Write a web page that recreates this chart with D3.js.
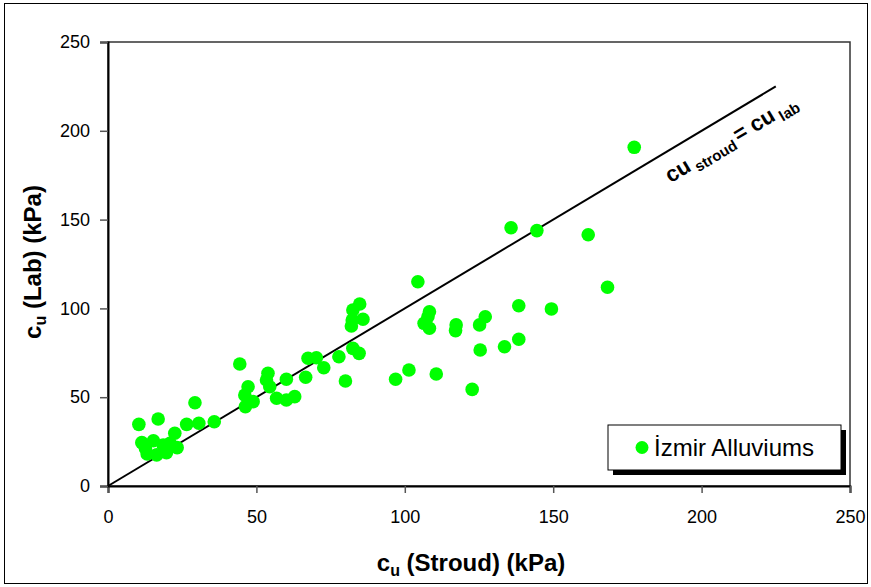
<!DOCTYPE html>
<html>
<head>
<meta charset="utf-8">
<script src="https://cdn.jsdelivr.net/npm/d3@7"></script>
<style>
  html, body { margin: 0; padding: 0; background: #fff; }
  svg { display: block; font-family: "Liberation Sans", Arial, sans-serif; }
</style>
</head>
<body>
<svg id="chart" width="871" height="587"></svg>
<script>
// Data: c_u (Stroud) vs c_u (Lab), kPa
const cuStroud = [10.4, 16.9, 11.4, 15.3, 13.2, 16.4, 19.7, 23.3, 22.5, 18.6, 20.9, 26.5, 30.6, 35.8, 29.3, 12.6,
  44.4, 47.2, 46.1, 46.3, 48.9, 53.9, 53.4, 54.5, 56.8, 60.1, 60.1, 62.9, 66.6, 67.4, 70.2, 72.7, 77.8, 80.0,
  82.5, 84.6, 82.0, 82.3, 82.5, 84.8, 85.9, 104.4, 108.3, 106.5, 108.3, 107.8, 117.3, 117.1, 125.2, 127.1,
  138.4, 138.4, 133.6, 125.4, 101.4, 96.9, 110.6, 122.7, 135.8, 144.5, 161.8, 168.3, 177.3, 149.4];
const cuLab = [34.7, 37.7, 24.4, 25.5, 18.0, 17.5, 18.8, 21.6, 29.7, 23.1, 24.0, 34.7, 35.3, 36.2, 46.9, 21.2,
  68.7, 55.9, 51.2, 44.7, 47.5, 63.5, 59.7, 55.9, 49.4, 60.1, 48.4, 50.3, 61.2, 71.9, 72.2, 66.6, 72.8, 59.1,
  77.5, 74.7, 90.1, 93.5, 99.1, 102.5, 93.9, 115.0, 98.1, 91.6, 88.8, 95.3, 90.7, 87.5, 90.7, 95.3,
  101.5, 82.6, 78.4, 76.6, 65.3, 60.1, 63.1, 54.4, 145.4, 143.8, 141.5, 111.9, 190.7, 99.7];
const xTicks = [0, 50, 100, 150, 200, 250];
const yTicks = [0, 50, 100, 150, 200, 250];
const equalityLine = [0, 225];
const seriesName = "İzmir Alluviums";

const svg = d3.select("#chart");
const x = d3.scaleLinear().domain([0, 250]).range([108, 850]);
const y = d3.scaleLinear().domain([0, 250]).range([486, 42]);

// outer frame
svg.append("rect").attr("x", 4.5).attr("y", 3.5).attr("width", 863).attr("height", 580)
  .attr("fill", "none").attr("stroke", "#000").attr("stroke-width", 1);

// plot area frame
svg.append("rect").attr("x", x(0)).attr("y", y(250)).attr("width", x(250) - x(0)).attr("height", y(0) - y(250))
  .attr("fill", "none").attr("stroke", "#333").attr("stroke-width", 1.5);

// axes
const xAxis = svg.append("g").attr("transform", `translate(0,${y(0)})`)
  .call(d3.axisBottom(x).tickValues(xTicks).tickSize(7).tickPadding(17).tickFormat(d3.format("d")));
const yAxis = svg.append("g").attr("transform", `translate(${x(0)},0)`)
  .call(d3.axisLeft(y).tickValues(yTicks).tickSize(8).tickPadding(10).tickFormat(d3.format("d")));
[xAxis, yAxis].forEach(g => {
  g.select(".domain").attr("stroke", "#000").attr("stroke-width", 2);
  g.selectAll(".tick line").attr("stroke", "#555").attr("stroke-width", 1.5);
  g.selectAll(".tick text").attr("font-size", 18).attr("fill", "#000")
    .attr("font-family", "'Liberation Sans', Arial, sans-serif");
});

// equality line
svg.append("line")
  .attr("x1", x(equalityLine[0])).attr("y1", y(equalityLine[0]))
  .attr("x2", x(equalityLine[1])).attr("y2", y(equalityLine[1]))
  .attr("stroke", "#000").attr("stroke-width", 2);

// line label
const ang = Math.atan2(y(225) - y(0), x(225) - x(0)) * 180 / Math.PI;
const lbl = svg.append("text")
  .attr("transform", `translate(${x(189.5)},${y(170.5)}) rotate(${ang})`)
  .attr("font-size", 22).attr("font-weight", "bold").attr("fill", "#000");
lbl.append("tspan").text("cu");
lbl.append("tspan").attr("font-size", 15).attr("dy", 5).attr("dx", 4).text("stroud");
lbl.append("tspan").attr("dy", -5).attr("dx", 3).text("= cu");
lbl.append("tspan").attr("font-size", 15).attr("dy", 5).attr("dx", 4).text("lab");

// points
svg.append("g").selectAll("circle")
  .data(cuStroud.map((d, i) => [d, cuLab[i]]))
  .join("circle")
  .attr("cx", d => x(d[0])).attr("cy", d => y(d[1])).attr("r", 6.8)
  .attr("fill", "#00ff00");

// axis titles
const xt = svg.append("text").attr("x", 471).attr("y", 571).attr("text-anchor", "middle")
  .attr("font-size", 24).attr("font-weight", "bold");
xt.append("tspan").text("c");
xt.append("tspan").attr("font-size", 16).attr("dy", 5).text("u");
xt.append("tspan").attr("dy", -5).text(" (Stroud) (kPa)");

const yt = svg.append("text").attr("transform", "translate(41,262) rotate(-90)").attr("text-anchor", "middle")
  .attr("font-size", 24).attr("font-weight", "bold");
yt.append("tspan").text("c");
yt.append("tspan").attr("font-size", 16).attr("dy", 5).text("u");
yt.append("tspan").attr("dy", -5).text(" (Lab) (kPa)");

// legend
const lg = svg.append("g");
lg.append("rect").attr("x", 613).attr("y", 430).attr("width", 233).attr("height", 45).attr("fill", "#000");
lg.append("rect").attr("x", 608).attr("y", 425).attr("width", 233).attr("height", 45)
  .attr("fill", "#fff").attr("stroke", "#000").attr("stroke-width", 1);
lg.append("circle").attr("cx", 642).attr("cy", 447.5).attr("r", 6.5).attr("fill", "#00ff00");
lg.append("text").attr("x", 654).attr("y", 456).attr("font-size", 24).attr("fill", "#000").text(seriesName);
</script>
</body>
</html>
